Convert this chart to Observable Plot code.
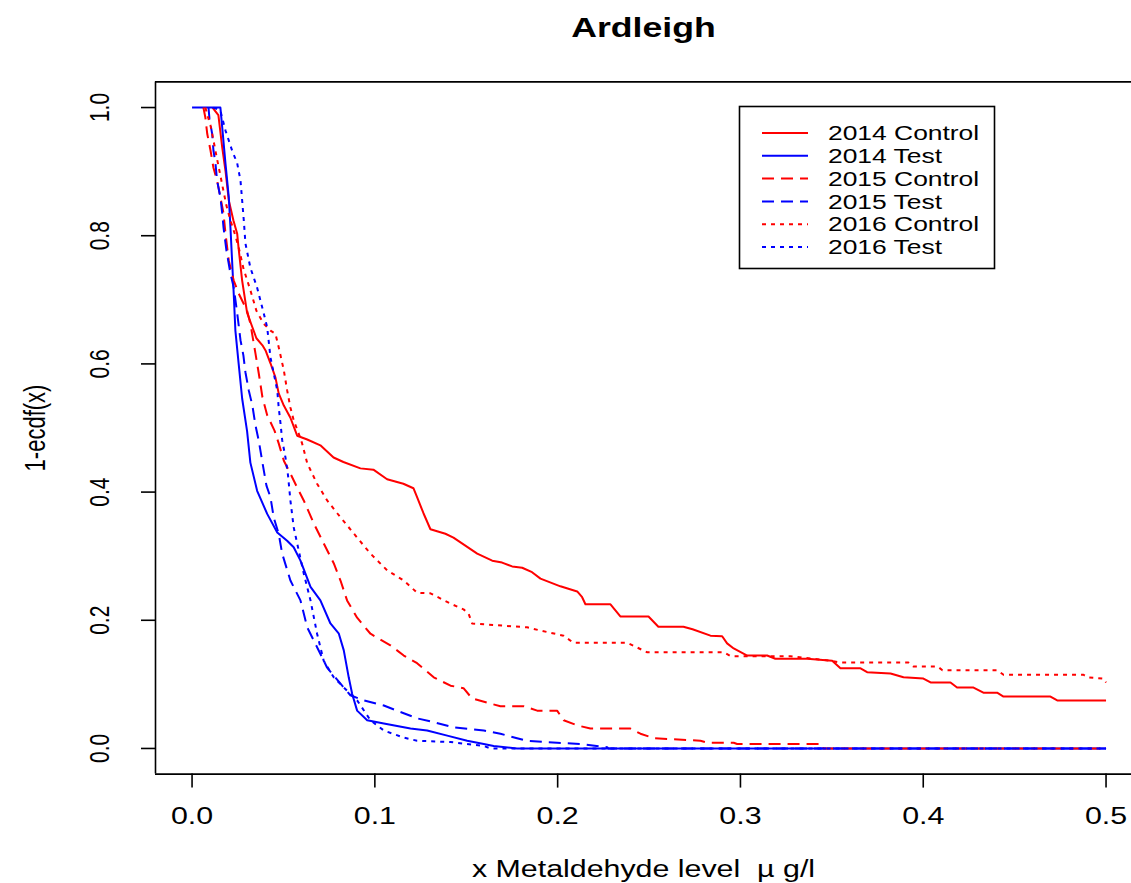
<!DOCTYPE html>
<html><head><meta charset="utf-8">
<script src="https://cdn.jsdelivr.net/npm/d3@7"></script>
<script src="https://cdn.jsdelivr.net/npm/@observablehq/plot@0.6"></script>
<style>html,body{margin:0;padding:0;background:#fff;}</style>
</head><body><div id="chart"></div>
<script>
const titleText = "Ardleigh";
const xLabel = "x Metaldehyde level \u00a0\u00b5 g/l";
const yLabel = "1-ecdf(x)";
const seriesNames = ["2014 Control", "2014 Test", "2015 Control", "2015 Test", "2016 Control", "2016 Test"];
const seriesColors = ["#ff0000", "#0000ff", "#ff0000", "#0000ff", "#ff0000", "#0000ff"];
const seriesDash = [null, null, "12,7", "12,7", "4,5", "4,5"];
const xTicks = [0, 0.1, 0.2, 0.3, 0.4, 0.5];
const yTicks = [0, 0.2, 0.4, 0.6, 0.8, 1.0];
const xDomain = [-0.02, 0.52];
const yDomain = [-0.04, 1.04];

const control2014 = [[0.0112,1.0],[0.0144,0.988],[0.0165,0.938],[0.0183,0.901],[0.0201,0.855],[0.0226,0.824],[0.0247,0.803],[0.0254,0.782],[0.0274,0.730],[0.0301,0.680],[0.0329,0.658],[0.0352,0.640],[0.0385,0.629],[0.0402,0.621],[0.0429,0.601],[0.0456,0.579],[0.0474,0.554],[0.0502,0.535],[0.0538,0.516],[0.0575,0.488],[0.0630,0.482],[0.0702,0.473],[0.0774,0.454],[0.0828,0.447],[0.0921,0.437],[0.0992,0.435],[0.1067,0.420],[0.1156,0.413],[0.1211,0.406],[0.1231,0.392],[0.1266,0.367],[0.1304,0.342],[0.1386,0.335],[0.1430,0.329],[0.1560,0.304],[0.1642,0.293],[0.1696,0.290],[0.1751,0.284],[0.1806,0.282],[0.1860,0.275],[0.1906,0.265],[0.2015,0.253],[0.2107,0.245],[0.2134,0.236],[0.2152,0.225],[0.2289,0.225],[0.2343,0.206],[0.2497,0.206],[0.2551,0.190],[0.2688,0.190],[0.2738,0.186],[0.2836,0.176],[0.2900,0.175],[0.2927,0.164],[0.2963,0.156],[0.3037,0.145],[0.3146,0.145],[0.3191,0.140],[0.3365,0.140],[0.3502,0.137],[0.3547,0.125],[0.3657,0.125],[0.3693,0.119],[0.3821,0.117],[0.3892,0.111],[0.4001,0.109],[0.4040,0.103],[0.4149,0.103],[0.4185,0.095],[0.4275,0.095],[0.4329,0.087],[0.4404,0.087],[0.4439,0.081],[0.4696,0.081],[0.4733,0.075],[0.5,0.075]];

const test2014 = [[0,1],[0.0155,1],[0.0165,0.969],[0.0183,0.912],[0.0201,0.860],[0.0210,0.813],[0.0219,0.761],[0.0228,0.709],[0.0237,0.652],[0.0255,0.600],[0.0274,0.546],[0.0301,0.495],[0.0319,0.446],[0.0356,0.402],[0.0411,0.366],[0.0466,0.337],[0.0520,0.324],[0.0556,0.314],[0.0593,0.293],[0.0648,0.252],[0.0702,0.231],[0.0757,0.195],[0.0803,0.179],[0.0830,0.153],[0.0857,0.111],[0.0876,0.085],[0.0903,0.059],[0.0958,0.044],[0.1049,0.039],[0.1195,0.031],[0.1286,0.028],[0.1396,0.020],[0.1505,0.012],[0.1596,0.007],[0.1650,0.004],[0.1778,0],[0.5,0]];

const control2015 = [[0.0062,1.0],[0.0073,0.984],[0.0083,0.959],[0.0101,0.933],[0.0117,0.906],[0.0137,0.886],[0.0155,0.860],[0.0172,0.835],[0.0183,0.803],[0.0201,0.761],[0.0228,0.730],[0.0255,0.710],[0.0301,0.683],[0.0319,0.663],[0.0347,0.616],[0.0365,0.585],[0.0385,0.548],[0.0411,0.520],[0.0451,0.496],[0.0474,0.476],[0.0502,0.449],[0.0538,0.429],[0.0575,0.407],[0.0611,0.387],[0.0666,0.351],[0.0720,0.320],[0.0775,0.289],[0.0812,0.262],[0.0848,0.231],[0.0903,0.204],[0.0976,0.179],[0.1085,0.161],[0.1158,0.145],[0.1231,0.133],[0.1322,0.111],[0.1414,0.098],[0.1485,0.094],[0.1532,0.078],[0.1632,0.070],[0.1687,0.066],[0.1813,0.066],[0.1888,0.059],[0.1997,0.059],[0.2033,0.044],[0.2107,0.036],[0.2179,0.031],[0.2398,0.031],[0.2453,0.023],[0.2526,0.016],[0.2781,0.012],[0.2818,0.009],[0.2963,0.009],[0.2982,0.007],[0.3447,0.007],[0.3454,0],[0.5,0]];

const test2015 = [[0.0090,1.0],[0.0095,0.983],[0.0110,0.959],[0.0117,0.933],[0.0128,0.913],[0.0137,0.886],[0.0155,0.860],[0.0165,0.835],[0.0172,0.813],[0.0188,0.777],[0.0210,0.741],[0.0228,0.719],[0.0247,0.679],[0.0265,0.637],[0.0281,0.613],[0.0292,0.587],[0.0310,0.559],[0.0330,0.535],[0.0347,0.504],[0.0365,0.480],[0.0385,0.446],[0.0407,0.410],[0.0429,0.392],[0.0447,0.360],[0.0474,0.335],[0.0493,0.304],[0.0538,0.262],[0.0593,0.231],[0.0630,0.189],[0.0684,0.158],[0.0739,0.126],[0.0812,0.101],[0.0866,0.083],[0.0939,0.075],[0.1049,0.067],[0.1158,0.055],[0.1231,0.047],[0.1322,0.041],[0.1432,0.033],[0.1596,0.028],[0.1687,0.023],[0.1778,0.016],[0.1833,0.012],[0.1997,0.009],[0.2125,0.007],[0.2271,0.002],[0.2278,0],[0.5,0]];

const control2016 = [[0.0073,1.0],[0.0084,0.988],[0.0101,0.972],[0.0117,0.949],[0.0133,0.925],[0.0150,0.901],[0.0166,0.878],[0.0188,0.847],[0.0210,0.824],[0.0237,0.800],[0.0259,0.777],[0.0281,0.749],[0.0319,0.715],[0.0352,0.683],[0.0391,0.663],[0.0429,0.652],[0.0456,0.647],[0.0474,0.626],[0.0502,0.590],[0.0520,0.559],[0.0538,0.532],[0.0556,0.512],[0.0584,0.491],[0.0602,0.476],[0.0630,0.445],[0.0684,0.413],[0.0739,0.387],[0.0794,0.367],[0.0903,0.329],[0.0976,0.304],[0.1067,0.278],[0.1158,0.262],[0.1231,0.243],[0.1304,0.242],[0.1414,0.226],[0.1485,0.217],[0.1512,0.211],[0.1532,0.195],[0.1833,0.189],[0.1906,0.184],[0.2032,0.176],[0.2086,0.165],[0.2380,0.165],[0.2490,0.150],[0.2909,0.150],[0.2946,0.144],[0.3274,0.144],[0.3492,0.137],[0.3547,0.134],[0.3919,0.134],[0.3946,0.128],[0.4078,0.128],[0.4105,0.122],[0.4406,0.122],[0.4439,0.115],[0.4877,0.115],[0.4899,0.111],[0.4986,0.109],[0.5,0.103]];

const test2016 = [[0.0117,1.0],[0.0155,0.995],[0.0183,0.964],[0.0219,0.933],[0.0247,0.913],[0.0265,0.886],[0.0283,0.824],[0.0292,0.788],[0.0319,0.750],[0.0356,0.719],[0.0392,0.679],[0.0411,0.657],[0.0429,0.610],[0.0447,0.585],[0.0466,0.559],[0.0474,0.532],[0.0484,0.507],[0.0493,0.481],[0.0511,0.454],[0.0525,0.426],[0.0538,0.387],[0.0556,0.345],[0.0575,0.320],[0.0611,0.273],[0.0648,0.231],[0.0684,0.179],[0.0720,0.137],[0.0775,0.111],[0.0848,0.090],[0.0903,0.075],[0.0976,0.044],[0.1049,0.028],[0.1158,0.017],[0.1231,0.012],[0.1414,0.010],[0.1505,0.007],[0.1596,0.004],[0.1632,0],[0.5,0]];

const allSeries = [control2014, test2014, control2015, test2015, control2016, test2016];

const rows = [];
allSeries.forEach((pts, i) => pts.forEach(([x, y]) => rows.push({series: seriesNames[i], x, y})));

const lineMarks = seriesNames.map((name, i) => Plot.line(rows.filter(d => d.series === name), {
  x: "x", y: "y", stroke: seriesColors[i], strokeWidth: 2,
  strokeDasharray: seriesDash[i] || undefined, strokeLinecap: "butt", strokeLinejoin: "round"
}));

const chart = Plot.plot({
  width: 1131, height: 883,
  marginLeft: 155, marginTop: 81.4, marginBottom: 109.4, marginRight: 0,
  x: {domain: xDomain, range: [155, 1142.1]},
  y: {domain: yDomain},
  style: {fontFamily: "'Liberation Sans', Arial, sans-serif", fontSize: "23px", background: "#fff", color: "#000"},
  marks: [
    ...lineMarks,
    Plot.ruleY(yDomain, {stroke: "#000", strokeWidth: 1.6}),
    Plot.ruleX(xDomain, {stroke: "#000", strokeWidth: 1.6}),
    Plot.axisX({ticks: xTicks, tickSize: 14, tickPadding: 20, tickFormat: d3.format(".1f"), strokeWidth: 1.6, fontSize: 23, label: null}),
    Plot.axisY({ticks: yTicks, tickSize: 14, tickFormat: () => "", strokeWidth: 1.6, label: null}),
    Plot.text(yTicks, {y: d => d, text: d => d.toFixed(1), frameAnchor: "left", textAnchor: "middle", dx: -55, rotate: -90, fontSize: 21}),
    Plot.text([titleText], {text: d => d, frameAnchor: "top", dy: -64, fontSize: 27, fontWeight: "bold"}),
    Plot.text([xLabel], {text: d => d, frameAnchor: "bottom", dy: 103, fontSize: 23}),
    Plot.text([yLabel], {text: d => d, frameAnchor: "left", textAnchor: "middle", dx: -120, rotate: -90, fontSize: 22})
  ]
});
document.getElementById("chart").appendChild(chart);

// Legend
const svg = d3.select(chart);
const lg = svg.append("g").attr("font-family", "'Liberation Sans', Arial, sans-serif").attr("text-anchor", "start");
lg.append("rect").attr("x", 739.5).attr("y", 106.5).attr("width", 255).attr("height", 162)
  .attr("fill", "#fff").attr("stroke", "#000").attr("stroke-width", 1.6);
seriesNames.forEach((name, i) => {
  const y = 133 + i * 22.8;
  lg.append("line").attr("x1", 762).attr("x2", 808).attr("y1", y).attr("y2", y)
    .attr("stroke", seriesColors[i]).attr("stroke-width", 2)
    .attr("stroke-dasharray", seriesDash[i]);
  lg.append("text").attr("x", 828).attr("y", y).attr("dy", "0.36em").attr("font-size", 20)
    .attr("text-anchor", "start").attr("fill", "#000").text(name);
});

// horizontal stretch of the original raster
const STRETCH = 1.32;
chart.querySelectorAll("text").forEach(t => {
  const tr = t.getAttribute("transform") || "";
  const ptr = (t.parentNode && t.parentNode.getAttribute && t.parentNode.getAttribute("transform")) || "";
  if (tr.includes("rotate")) {
    t.setAttribute("transform", tr + " scale(1," + STRETCH + ")");
  } else if (ptr.includes("rotate")) {
    // leave
  } else {
    const L = t.getComputedTextLength();
    if (L > 0) { t.setAttribute("textLength", L * STRETCH); t.setAttribute("lengthAdjust", "spacingAndGlyphs"); }
  }
});
</script>
</body></html>
